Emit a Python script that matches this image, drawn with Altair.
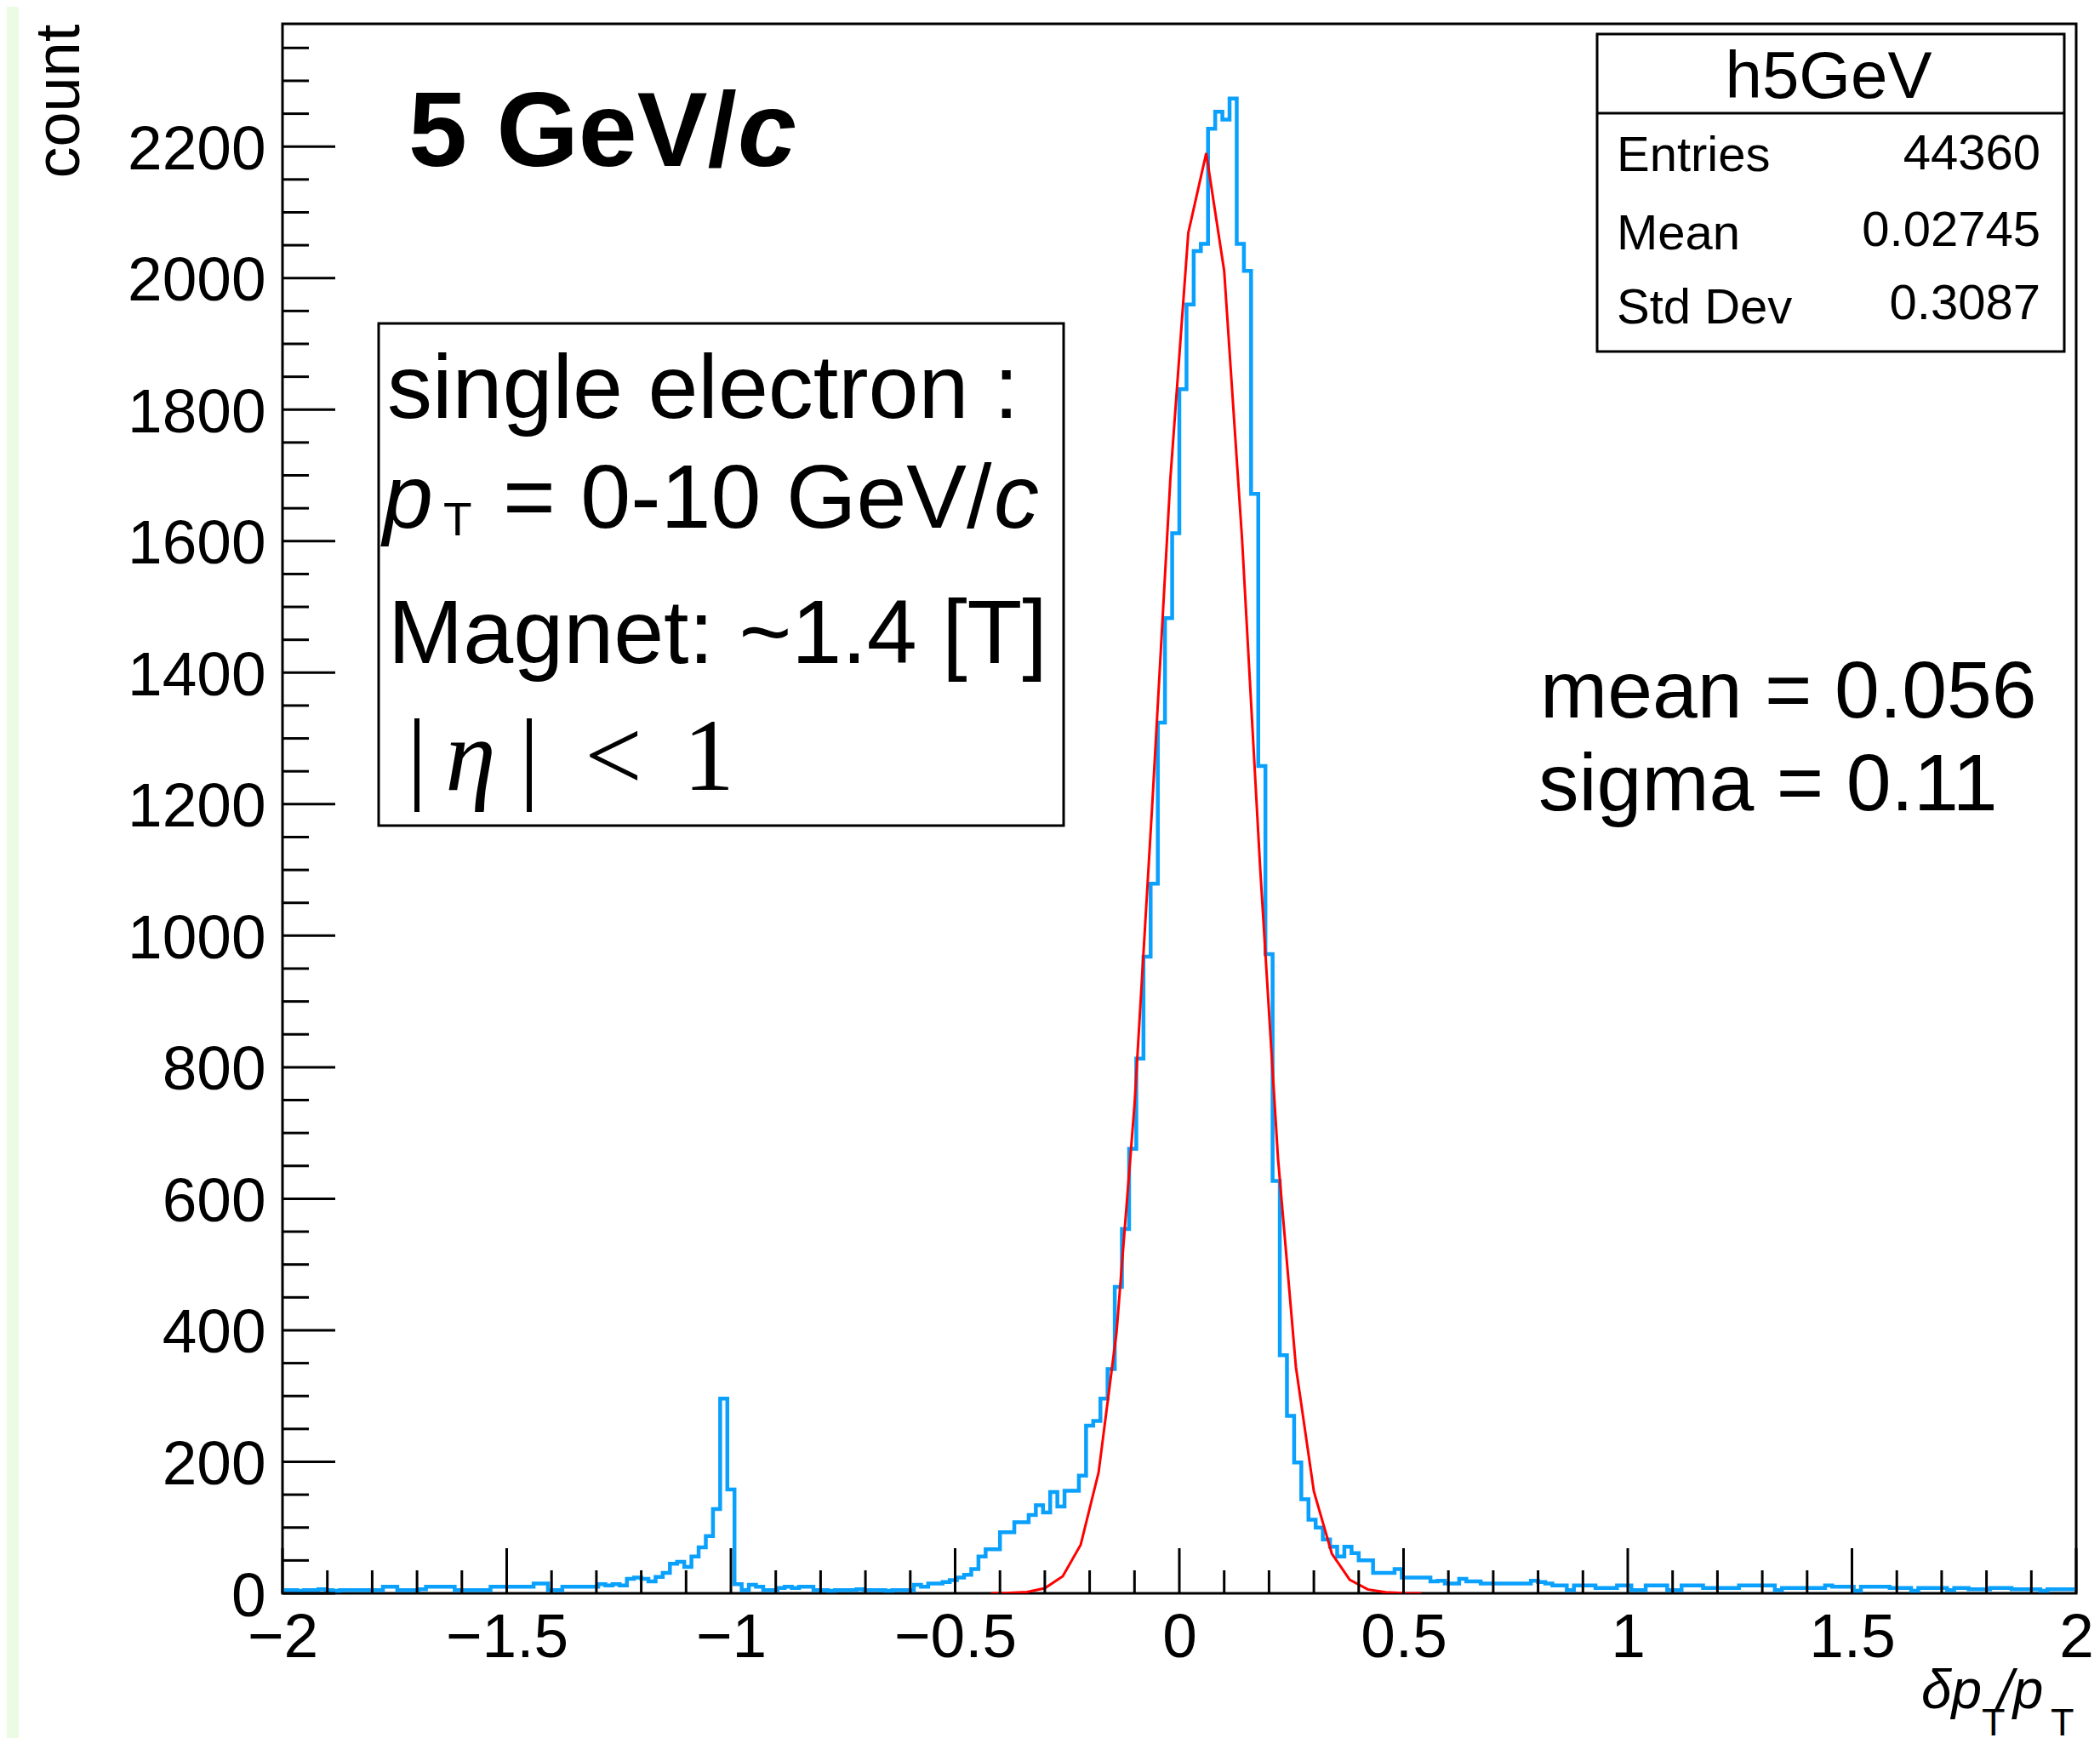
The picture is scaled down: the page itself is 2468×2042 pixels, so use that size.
import altair as alt
import pandas as pd

# ---------------- data ----------------
X_RANGE = [-2.0, 2.0]
Y_RANGE = [0.0, 2386.65]
N_BINS = 250  # bin width 0.016

# counts per bin, left to right
COUNTS_LEFT_TAIL = [5, 5, 4, 5, 5, 6, 5, 4, 5, 5, 5, 5, 5, 5, 10, 10, 5, 5, 5, 6,
                    10, 10, 10, 10, 5, 5, 5, 5, 5, 10, 10, 10, 10, 10, 10, 15, 15, 5, 5, 10,
                    10, 10, 10, 10]
COUNTS_SPIKE = [14, 12, 14, 12, 22, 24, 22, 18, 25, 31, 45, 48, 40, 56, 70, 87, 128, 296, 158, 14,
                5, 13, 10, 5]
COUNTS_MID = [5, 8, 10, 8, 10, 10, 5, 5, 4, 5, 5, 5, 6, 5, 5, 5, 4, 5, 5, 5, 13, 10, 15, 15]
COUNTS_SHOULDER = [17, 20, 24, 28, 37, 56, 67, 67, 93, 93, 108, 108, 119, 134, 123, 154, 132, 156,
                   156, 179, 255, 262, 296, 341]
COUNTS_CORE = [466, 554, 676, 813, 968, 1079, 1324, 1483, 1612, 1831, 1960, 2041, 2052, 2227,
               2253, 2241, 2273, 2052, 2011, 1672, 1258, 972, 627, 362, 270, 199, 143, 112, 100,
               82, 71]
COUNTS_RIGHT_NEAR = [56, 71, 61, 50, 50, 31, 31, 31, 37, 24, 24, 24, 24, 18]
COUNTS_RIGHT_TAIL = [19, 15, 15, 22, 18, 18, 15, 15, 15, 15, 15, 15, 15, 19, 17, 15, 12, 12, 5, 12,
                     12, 12, 8, 8, 8, 12, 12, 5, 5, 12, 12, 12, 5, 5, 12, 12, 12, 8, 8,
                     8, 8, 8, 12, 12, 12, 12, 12, 5, 8, 8, 8, 8, 8, 8, 12, 10, 10, 10, 4, 10,
                     10, 10, 10, 8,
                     8, 8, 4, 8, 8, 8, 8, 5, 8, 8, 6, 6, 6, 8, 8, 8, 6, 6, 6, 6, 4, 6, 6, 6, 6]
COUNTS = (COUNTS_LEFT_TAIL + COUNTS_SPIKE + COUNTS_MID + COUNTS_SHOULDER + COUNTS_CORE
          + COUNTS_RIGHT_NEAR + COUNTS_RIGHT_TAIL)
assert len(COUNTS) == N_BINS

FIT_X = [-0.42, -0.38, -0.34, -0.30, -0.26, -0.22, -0.18, -0.14, -0.10, -0.06, -0.02, 0.02,
         0.06, 0.10, 0.14, 0.18, 0.22, 0.26, 0.30, 0.34, 0.38, 0.42, 0.46, 0.50, 0.54]
FIT_Y = [0.1, 0.5, 2.0, 7.8, 25.8, 73.8, 184, 397, 742, 1204, 1695, 2069,
         2190, 2011, 1602, 1106, 662, 344, 155, 60.5, 20.5, 6.0, 1.5, 0.3, 0.1]

X_LABEL_TICKS = [-2, -1.5, -1, -0.5, 0, 0.5, 1, 1.5, 2]
X_MINOR_TICKS = [round(-2 + 0.1 * i, 1) for i in range(41) if i % 5 != 0]
Y_LABEL_TICKS = [0, 200, 400, 600, 800, 1000, 1200, 1400, 1600, 1800, 2000, 2200]
Y_MINOR_TICKS = [50 * i for i in range(48) if i % 4 != 0]

STATS_NAME = ["h5GeV"]
STATS_LABELS = ["Entries", "Mean", "Std Dev"]
STATS_VALUES = ["44360", "0.02745", "0.3087"]
FIT_TEXT = ["mean = 0.056", "sigma = 0.11"]
BOX_TEXT = ["single electron :", "Magnet: ~1.4 [T]"]
Y_TITLE = "count"

# ---------------- styling ----------------
W, H = 2108, 1844
SANS = "Liberation Sans"
SERIF = "Liberation Serif"
BLUE = "#0aa0fd"
RED = "#ff0000"

xs = alt.Scale(domain=X_RANGE, nice=False, zero=False)
ys = alt.Scale(domain=Y_RANGE, nice=False, zero=False)

AX_X = alt.Axis(
    values=X_LABEL_TICKS, title="", ticks=False, tickSize=0, domain=False, grid=False,
    labelFontSize=73, labelFont=SANS, labelColor="black", labelPadding=16,
    labelFlush=False, labelOverlap=False, format="~g")
AX_Y = alt.Axis(
    values=Y_LABEL_TICKS, title=Y_TITLE, ticks=False, tickSize=0, domain=False, grid=False,
    labelFontSize=73, labelFont=SANS, labelColor="black", labelPadding=20,
    labelOffset=4, labelOverlap=False, format="d",
    titleFont=SANS, titleFontSize=74, titleFontWeight="normal", titleColor="black",
    titleAngle=270, titleAlign="right", titleBaseline="alphabetic",
    titleX=-240, titleY=0)

step = (X_RANGE[1] - X_RANGE[0]) / N_BINS
edges = [X_RANGE[0] + step * i for i in range(N_BINS + 1)]
hist_df = pd.DataFrame({"x": edges, "count": COUNTS + [COUNTS[-1]]})
fit_df = pd.DataFrame({"x": FIT_X, "count": FIT_Y})

one = pd.DataFrame({"a": [0]})

green = alt.Chart(one).mark_rect(color="#ecfbe4").encode(
    x=alt.value(-324), x2=alt.value(-310), y=alt.value(-20), y2=alt.value(H + 170))

hist = alt.Chart(hist_df).mark_line(interpolate="step-after", color=BLUE, strokeWidth=4.5,
                                    clip=True).encode(
    x=alt.X("x:Q", scale=xs, axis=AX_X),
    y=alt.Y("count:Q", scale=ys, axis=AX_Y),
)

fit = alt.Chart(fit_df).mark_line(color=RED, strokeWidth=3, clip=True).encode(
    x=alt.X("x:Q", scale=xs, axis=AX_X),
    y=alt.Y("count:Q", scale=ys, axis=AX_Y),
)


def xticks(vals, length):
    return alt.Chart(pd.DataFrame({"x": vals})).mark_rule(color="black", strokeWidth=3).encode(
        x=alt.X("x:Q", scale=xs, axis=AX_X), y=alt.value(H), y2=alt.value(H - length))


def yticks(vals, length):
    return alt.Chart(pd.DataFrame({"count": vals})).mark_rule(color="black", strokeWidth=3).encode(
        y=alt.Y("count:Q", scale=ys, axis=AX_Y), x=alt.value(0), x2=alt.value(length))


def box(x1, x2, y1, y2):
    return alt.Chart(one).mark_rect(fill="white", stroke="black", strokeWidth=3).encode(
        x=alt.value(x1), x2=alt.value(x2), y=alt.value(y1), y2=alt.value(y2))


def txt(s, x, y, size, style="normal", weight="normal", align="left", font=SANS):
    return alt.Chart(pd.DataFrame({"t": [s]})).mark_text(
        align=align, baseline="alphabetic", font=font, fontSize=size, fontStyle=style,
        fontWeight=weight, color="black").encode(
        text="t:N", x=alt.value(x), y=alt.value(y))


sep = alt.Chart(one).mark_rule(color="black", strokeWidth=3).encode(
    x=alt.value(1545), x2=alt.value(2094), y=alt.value(105))

layers = [
    green, hist, fit,
    xticks(X_LABEL_TICKS, 53), xticks(X_MINOR_TICKS, 27),
    yticks(Y_LABEL_TICKS, 62), yticks(Y_MINOR_TICKS, 31),
    # top-left label
    txt("5 GeV/", 148, 167, 124, weight="bold"),
    txt("c", 535, 167, 124, style="italic", weight="bold"),
    # info box
    box(113, 918, 352, 942),
    txt(BOX_TEXT[0], 123, 463, 106),
    txt("p", 118, 592, 106, style="italic"),
    txt("T", 189, 601, 55),
    txt("= 0-10 GeV/", 259, 592, 106),
    txt("c", 836, 592, 106, style="italic"),
    txt(BOX_TEXT[1], 124, 751, 106),
    txt("|", 158, 900, 120, align="center", font=SERIF),
    txt("η", 221, 900, 120, style="italic", align="center", font=SERIF),
    txt("|", 290, 900, 120, align="center", font=SERIF),
    txt("<", 389, 900, 120, align="center", font=SERIF),
    txt("1", 501, 900, 120, align="center", font=SERIF),
    # fit results
    txt(FIT_TEXT[0], 1478, 815, 95),
    txt(FIT_TEXT[1], 1476, 924, 95),
    # stats box
    box(1545, 2094, 12, 385), sep,
    txt(STATS_NAME[0], 1817, 87, 78, align="center"),
    txt(STATS_LABELS[0], 1568, 173, 58),
    txt(STATS_LABELS[1], 1568, 265, 58),
    txt(STATS_LABELS[2], 1568, 352, 58),
    txt(STATS_VALUES[0], 2066, 171, 58, align="right"),
    txt(STATS_VALUES[1], 2066, 261, 58, align="right"),
    txt(STATS_VALUES[2], 2066, 347, 58, align="right"),
    # x-axis title  δp_T / p_T
    txt("δp", 1926, 1979, 64, style="italic"),
    txt("T", 1997, 2011, 45),
    txt("/p", 2016, 1979, 64, style="italic"),
    txt("T", 2078, 2011, 45),
]

chart = alt.layer(*layers).properties(
    width=W, height=H,
    autosize=alt.AutoSizeParams(type="none"),
    padding={"left": 324, "top": 20, "right": 20, "bottom": 170},
    background="white",
).configure_view(stroke="black", strokeWidth=3)

chart.save("out.html", embed_options={"renderer": "svg", "actions": False})
